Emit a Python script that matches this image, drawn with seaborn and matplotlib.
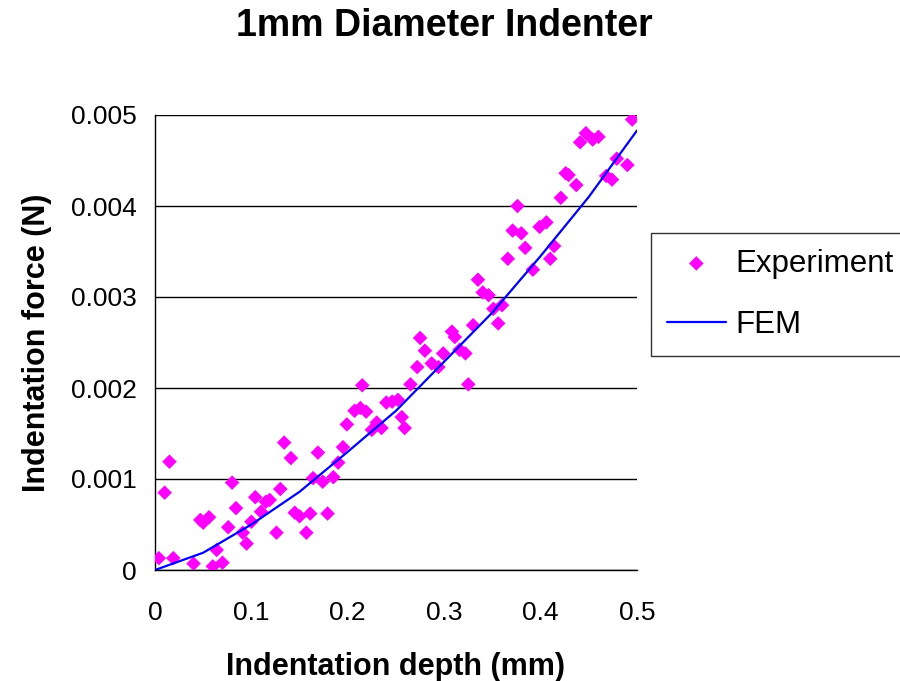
import numpy as np
import pandas as pd
import matplotlib
matplotlib.use("Agg")
import matplotlib.pyplot as plt
import seaborn as sns

exp_depth = [0.004, 0.010, 0.015, 0.019, 0.040, 0.047, 0.050, 0.056, 0.060, 0.064,
             0.070, 0.076, 0.080, 0.084, 0.091, 0.095, 0.100, 0.104, 0.110, 0.115,
             0.119, 0.126, 0.130, 0.134, 0.141, 0.145, 0.150, 0.157, 0.161, 0.164,
             0.169, 0.174, 0.179, 0.185, 0.190, 0.195, 0.199, 0.207, 0.213, 0.215,
             0.219, 0.225, 0.230, 0.235, 0.240, 0.246, 0.252, 0.256, 0.259, 0.265,
             0.272, 0.275, 0.280, 0.287, 0.294, 0.299, 0.308, 0.311, 0.316, 0.322,
             0.325, 0.330, 0.335, 0.340, 0.346, 0.351, 0.360, 0.356, 0.366, 0.371,
             0.380, 0.376, 0.384, 0.392, 0.399, 0.406, 0.410, 0.414, 0.421, 0.426,
             0.429, 0.437, 0.441, 0.447, 0.454, 0.460, 0.468, 0.474, 0.479, 0.490,
             0.495]
exp_force = [0.00013, 0.00085, 0.00119, 0.00013, 0.00007, 0.00055, 0.00052, 0.00058, 0.00004, 0.00022,
             0.00008, 0.00047, 0.00096, 0.00068, 0.00041, 0.00029, 0.00053, 0.00080, 0.00064, 0.00075,
             0.00077, 0.00041, 0.00089, 0.00140, 0.00123, 0.00063, 0.00059, 0.00041, 0.00062, 0.00101,
             0.00129, 0.00097, 0.00062, 0.00102, 0.00118, 0.00135, 0.00160, 0.00175, 0.00178, 0.00203,
             0.00174, 0.00154, 0.00162, 0.00156, 0.00184, 0.00185, 0.00187, 0.00168, 0.00156, 0.00204,
             0.00223, 0.00255, 0.00241, 0.00227, 0.00223, 0.00238, 0.00262, 0.00256, 0.00242, 0.00238,
             0.00204, 0.00269, 0.00319, 0.00305, 0.00302, 0.00287, 0.00291, 0.00271, 0.00342, 0.00373,
             0.00370, 0.00400, 0.00354, 0.00330, 0.00377, 0.00382, 0.00342, 0.00356, 0.00409, 0.00436,
             0.00434, 0.00423, 0.00470, 0.00480, 0.00473, 0.00476, 0.00433, 0.00429, 0.00452, 0.00445,
             0.00495]

# FEM curve
fem_depth = [0.0, 0.05, 0.10, 0.15, 0.20, 0.25, 0.30, 0.35, 0.40, 0.45, 0.50]
fem_force = [0.0, 0.00019, 0.00050, 0.00086, 0.00130, 0.00175, 0.00229, 0.00283, 0.00345, 0.00410, 0.00483]

x_ticks = [0, 0.1, 0.2, 0.3, 0.4, 0.5]
x_labels = ["0", "0.1", "0.2", "0.3", "0.4", "0.5"]
y_ticks = [0, 0.001, 0.002, 0.003, 0.004, 0.005]
y_labels = ["0", "0.001", "0.002", "0.003", "0.004", "0.005"]

df_exp = pd.DataFrame({"depth": exp_depth, "force": exp_force})
df_fem = pd.DataFrame({"depth": fem_depth, "force": fem_force})

sns.set_style("white")
plt.rcParams["font.family"] = ["Liberation Sans", "DejaVu Sans"]
plt.rcParams["text.color"] = "black"
plt.rcParams["axes.labelcolor"] = "black"
plt.rcParams["xtick.color"] = "black"
plt.rcParams["ytick.color"] = "black"

fig = plt.figure(figsize=(9, 6.81), dpi=100)
ax = fig.add_axes([155 / 900, 111 / 681, 482 / 900, 455 / 681])

sns.scatterplot(data=df_exp, x="depth", y="force", ax=ax, marker="D", s=55,
                color="#ff00ff", edgecolor="none", linewidth=0, label="Experiment", zorder=3)
sns.lineplot(data=df_fem, x="depth", y="force", ax=ax, color="#0000ff",
             linewidth=1.6, label="FEM", zorder=4)

ax.set_xlim(0, 0.5)
ax.set_ylim(0, 0.005)
ax.set_xticks(x_ticks)
ax.set_xticklabels(x_labels)
ax.set_yticks(y_ticks)
ax.set_yticklabels(y_labels)
ax.tick_params(axis="both", direction="out", length=6, width=1, color="black",
               labelsize=19)
ax.tick_params(axis="x", pad=16)
ax.tick_params(axis="y", pad=7)
ax.yaxis.grid(True, color="black", linewidth=1)
ax.xaxis.grid(False)
for side in ["top", "right"]:
    ax.spines[side].set_visible(False)
for side in ["left", "bottom"]:
    ax.spines[side].set_color("black")
    ax.spines[side].set_linewidth(1)

ax.set_xlabel("Indentation depth (mm)", fontsize=22, fontweight="bold", labelpad=20)
ax.set_ylabel("Indentation force (N)", fontsize=22, fontweight="bold", labelpad=14)
fig.suptitle("1mm Diameter Indenter", fontsize=27, fontweight="bold", x=444 / 900, y=1 - 26 / 681,
             va="center")

handles, labels = ax.get_legend_handles_labels()
ax.get_legend().remove()
leg = fig.legend(handles, labels, loc="upper left", bbox_to_anchor=(651 / 900, 1 - 233 / 681),
                 borderaxespad=0, fontsize=22.5, frameon=True, fancybox=False, edgecolor="black",
                 handlelength=1.9, handletextpad=0.3, borderpad=0.5, labelspacing=1.0)
leg.get_frame().set_linewidth(1)

fig.savefig("out.png", dpi=100)
